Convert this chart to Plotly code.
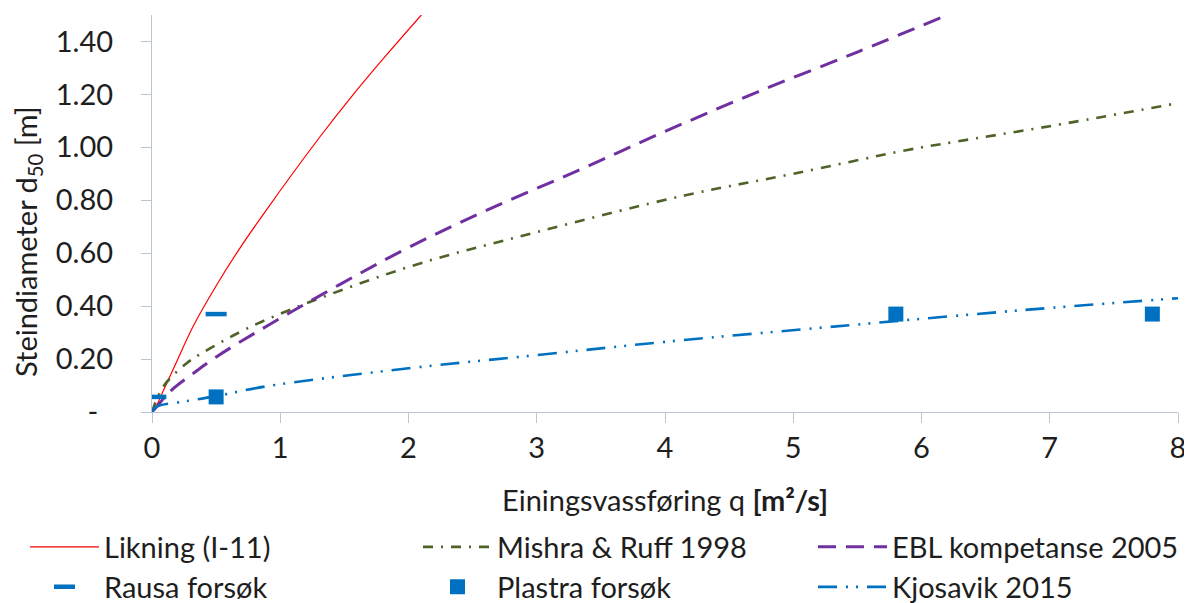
import plotly.graph_objects as go

# ---- data ----
likning_q = [0, 0.023, 0.088, 0.192, 0.322, 0.504, 0.673, 0.894, 1.31, 1.57, 1.83, 2.10]
likning_d = [0, 0.012, 0.08, 0.19, 0.325, 0.48, 0.61, 0.765, 1.04, 1.20, 1.35, 1.50]

mishra_q = [0, 0.088, 0.27, 0.452, 0.855, 1.962, 3.0, 4.16, 5.0, 5.88, 6.25, 7.0, 8.0]
mishra_d = [0, 0.096, 0.184, 0.24, 0.341, 0.542, 0.68, 0.819, 0.90, 0.989, 1.02, 1.08, 1.167]

ebl_q = [0, 0.036, 0.153, 0.322, 0.504, 0.907, 1.934, 2.6, 3.325, 4.0, 4.72, 5.5, 6.19]
ebl_d = [0, 0.02, 0.083, 0.146, 0.209, 0.328, 0.605, 0.76, 0.913, 1.06, 1.209, 1.36, 1.498]

rausa_q = [0.03, 0.5]
rausa_d = [0.057, 0.37]

plastra_q = [0.5, 5.8, 7.8]
plastra_d = [0.057, 0.37, 0.37]

kjos_q = [0, 0.036, 0.244, 0.5, 0.88, 2.0, 3.0, 4.0, 5.44, 6.79, 8.0]
kjos_d = [0, 0.02, 0.039, 0.06, 0.096, 0.165, 0.215, 0.265, 0.328, 0.385, 0.43]

x_ticks = [0, 1, 2, 3, 4, 5, 6, 7, 8]
y_ticks = [0, 0.2, 0.4, 0.6, 0.8, 1.0, 1.2, 1.4]
y_ticktext = ["-\u00a0\u00a0", "0.20", "0.40", "0.60", "0.80", "1.00", "1.20", "1.40"]

FONT = "Lato, 'Open Sans', sans-serif"
FS = 29
TXT = "#1e1e1e"
AX = "#BCC5D3"

# page is drawn with an 8px body margin: figure is sized to fit the window
W, H = 1184, 595
OFF = 8

fig = go.Figure()
fig.add_trace(go.Scatter(x=likning_q, y=likning_d, mode="lines", name="Likning (I-11)",
                         line=dict(color="#FF0000", width=1.2, shape="spline"), legend="legend"))
fig.add_trace(go.Scatter(x=mishra_q, y=mishra_d, mode="lines", name="Mishra &amp; Ruff 1998",
                         line=dict(color="#4F6228", width=2.6, dash="10px,8px,2px,8px", shape="spline"),
                         legend="legend2"))
fig.add_trace(go.Scatter(x=ebl_q, y=ebl_d, mode="lines", name="EBL kompetanse 2005",
                         line=dict(color="#7030A0", width=3, dash="18px,10px", shape="spline"),
                         legend="legend3"))
fig.add_trace(go.Scatter(x=rausa_q, y=rausa_d, mode="markers", name="Rausa forsøk",
                         marker=dict(symbol="line-ew", size=15, color="#0070C0",
                                     line=dict(color="#0070C0", width=4.5)), legend="legend4"))
fig.add_trace(go.Scatter(x=plastra_q, y=plastra_d, mode="markers", name="Plastra forsøk",
                         marker=dict(symbol="square", size=15, color="#0070C0"), legend="legend5"))
fig.add_trace(go.Scatter(x=kjos_q, y=kjos_d, mode="lines", name="Kjosavik 2015",
                         line=dict(color="#0070C0", width=2.6, dash="19px,9px,2px,8px,2px,9px",
                                   shape="spline"),
                         legend="legend6"))


def leg(xpx, ypx):
    return dict(x=(xpx - OFF) / W, y=(H - (ypx - OFF)) / H, xref="container", yref="container",
                xanchor="left", yanchor="middle", bgcolor="rgba(0,0,0,0)",
                font=dict(family=FONT, size=FS, color=TXT), itemwidth=69)


fig.update_layout(
    width=W, height=H, showlegend=True,
    margin=dict(l=152 - OFF, r=W - (1178 - OFF), t=15 - OFF, b=H - (412 - OFF), autoexpand=False),
    paper_bgcolor="white", plot_bgcolor="white",
    font=dict(family=FONT, size=FS, color=TXT),
    legend=leg(25, 547), legend2=leg(418, 547), legend3=leg(813, 547),
    legend4=leg(25, 587), legend5=leg(418, 587), legend6=leg(813, 587),
    xaxis=dict(range=[0, 8], tickvals=x_ticks, ticks="outside", ticklen=10, tickcolor=AX,
               tickwidth=1.3, showline=True, linecolor=AX, linewidth=1.3, showgrid=False,
               zeroline=False, tickfont=dict(family=FONT, size=FS, color=TXT)),
    yaxis=dict(range=[0, 1.5], tickvals=y_ticks, ticktext=y_ticktext, ticks="outside", ticklen=10,
               tickcolor=AX, tickwidth=1.3, showline=True, linecolor=AX, linewidth=1.3,
               showgrid=False, zeroline=False, ticklabelstandoff=22,
               tickfont=dict(family=FONT, size=FS, color=TXT)),
    annotations=[
        dict(text="Steindiameter d<sub>50</sub> [m]", textangle=-90, xref="paper", yref="paper",
             x=(27 - 152) / 1026, y=(412 - 242) / 397, showarrow=False,
             xanchor="center", yanchor="middle", font=dict(family=FONT, size=FS, color=TXT)),
        dict(text="Einingsvassføring q <b>[m²/s]</b>", xref="paper", yref="paper",
             x=0.5, y=(412 - 499) / 397, showarrow=False,
             xanchor="center", yanchor="middle", font=dict(family=FONT, size=FS, color=TXT)),
    ],
)

fig.write_html("out.html")
